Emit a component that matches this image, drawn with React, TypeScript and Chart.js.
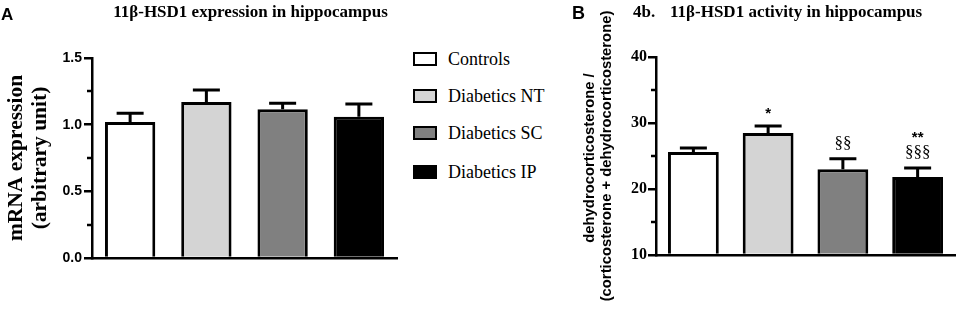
import React, { useEffect, useRef } from "react";
import { Chart, registerables } from "chart.js";

Chart.register(...registerables);

// ---------- data ----------
const groups = ["Controls", "Diabetics NT", "Diabetics SC", "Diabetics IP"];
const groupColors = ["#ffffff", "#d4d4d4", "#808080", "#000000"];

const expressionMean = [1.02, 1.17, 1.115, 1.06];
const expressionSem = [0.065, 0.09, 0.045, 0.095];
const expressionTicks = [0, 0.5, 1.0, 1.5];
const expressionMinorTicks = [0.25, 0.75, 1.25];

const activityMean = [25.6, 28.5, 23.0, 21.8];
const activitySem = [0.6, 1.05, 1.6, 1.4];
const activityTicks = [10, 20, 30, 40];
const activityMinorTicks = [15, 25, 35];
const activityVsControl = ["", "*", "", "**"];
const activityVsNT = ["", "", "§§", "§§§"];

const SERIF = "'Liberation Serif', 'Times New Roman', serif";
const SANS = "'Liberation Sans', Arial, sans-serif";

type TextItem = {
  text: string;
  x: number;
  y: number;
  font: string;
  align?: CanvasTextAlign;
  baseline?: CanvasTextBaseline;
  rotate?: boolean;
};

function makeTextPlugin(id: string, items: TextItem[]) {
  return {
    id,
    afterDraw(chart: any) {
      const ctx = chart.ctx as CanvasRenderingContext2D;
      ctx.save();
      ctx.fillStyle = "#000";
      items.forEach((it) => {
        ctx.save();
        ctx.font = it.font;
        ctx.textAlign = it.align ?? "left";
        ctx.textBaseline = it.baseline ?? "alphabetic";
        ctx.translate(it.x, it.y);
        if (it.rotate) ctx.rotate(-Math.PI / 2);
        ctx.fillText(it.text, 0, 0);
        ctx.restore();
      });
      ctx.restore();
    },
  };
}

function makeErrorBars(id: string, means: number[], sems: number[], capWidth: number) {
  return {
    id,
    afterDatasetsDraw(chart: any) {
      const meta = chart.getDatasetMeta(0);
      const y = chart.scales.y;
      const ctx = chart.ctx as CanvasRenderingContext2D;
      ctx.save();
      ctx.strokeStyle = "#000";
      ctx.lineWidth = 3;
      ctx.lineCap = "butt";
      meta.data.forEach((bar: any, i: number) => {
        const top = y.getPixelForValue(means[i] + sems[i]);
        ctx.beginPath();
        ctx.moveTo(bar.x, bar.y);
        ctx.lineTo(bar.x, top);
        ctx.moveTo(bar.x - capWidth / 2, top);
        ctx.lineTo(bar.x + capWidth / 2, top);
        ctx.stroke();
      });
      ctx.restore();
    },
  };
}

function makeMinorTicks(id: string, values: number[], length: number) {
  return {
    id,
    afterDraw(chart: any) {
      const y = chart.scales.y;
      const left = chart.chartArea.left;
      const ctx = chart.ctx as CanvasRenderingContext2D;
      ctx.save();
      ctx.strokeStyle = "#000";
      ctx.lineWidth = 2.5;
      values.forEach((v) => {
        const py = Math.round(y.getPixelForValue(v));
        ctx.beginPath();
        ctx.moveTo(left - length, py);
        ctx.lineTo(left, py);
        ctx.stroke();
      });
      ctx.restore();
    },
  };
}

function makeSignificance(id: string, means: number[], sems: number[]) {
  return {
    id,
    afterDraw(chart: any) {
      const meta = chart.getDatasetMeta(0);
      const y = chart.scales.y;
      const ctx = chart.ctx as CanvasRenderingContext2D;
      ctx.save();
      ctx.fillStyle = "#000";
      ctx.textAlign = "center";
      ctx.textBaseline = "alphabetic";
      meta.data.forEach((bar: any, i: number) => {
        let base = y.getPixelForValue(means[i] + sems[i]);
        if (activityVsNT[i]) {
          ctx.font = `17px ${SERIF}`;
          ctx.fillText(activityVsNT[i], bar.x, base - 11);
          base -= 18;
        }
        if (activityVsControl[i]) {
          ctx.font = `bold 15px ${SANS}`;
          ctx.fillText(activityVsControl[i], bar.x, base - 7.5);
        }
      });
      ctx.restore();
    },
  };
}

function axisCommon() {
  return {
    grid: { display: true, drawOnChartArea: false, drawTicks: true, tickLength: 8, color: "#000", lineWidth: 2.5 },
    border: { display: true, color: "#000", width: 2.5 },
  };
}

function xAxis(height: number) {
  return {
    grid: { display: false },
    border: { display: true, color: "#000", width: 2.5 },
    ticks: { display: false },
    afterFit: (s: any) => {
      s.height = height;
    },
  };
}

export default function App() {
  const refA = useRef<HTMLCanvasElement>(null);
  const refB = useRef<HTMLCanvasElement>(null);

  useEffect(() => {
    const chartA = new Chart(refA.current!, {
      type: "bar",
      data: {
        labels: groups,
        datasets: [
          {
            data: expressionMean,
            backgroundColor: groupColors,
            borderColor: "#000",
            borderWidth: 3,
            barPercentage: 0.66,
            categoryPercentage: 1,
          },
        ],
      },
      options: {
        responsive: false,
        animation: false,
        devicePixelRatio: 1,
        layout: { padding: { top: 58, right: 3, left: 0, bottom: 0 } },
        plugins: { legend: { display: false }, tooltip: { enabled: false } },
        scales: {
          x: xAxis(53),
          y: {
            min: 0,
            max: 1.5,
            ...axisCommon(),
            afterBuildTicks: (s: any) => {
              s.ticks = expressionTicks.map((v) => ({ value: v }));
            },
            ticks: {
              color: "#000",
              padding: 2,
              font: { family: SANS, size: 14, weight: "bold" },
              callback: (v: any) => Number(v).toFixed(1),
            },
            title: {
              display: true,
              text: ["mRNA expression", "(arbitrary unit)"],
              color: "#000",
              font: { family: SERIF, size: 21.5, weight: "bold", lineHeight: 1.12 },
              padding: { top: 4, bottom: 0 },
            },
            afterFit: (s: any) => {
              s.width = 92;
            },
          },
        },
      } as any,
      plugins: [
        makeErrorBars("errA", expressionMean, expressionSem, 27),
        makeMinorTicks("minorA", expressionMinorTicks, 5),
        makeTextPlugin("textA", [
          { text: "A", x: 1, y: 20, font: `bold 17px ${SANS}` },
          { text: "11β-HSD1 expression in hippocampus", x: 250.5, y: 17, font: `bold 17px ${SERIF}`, align: "center" },
        ]),
      ],
    });

    const chartB = new Chart(refB.current!, {
      type: "bar",
      data: {
        labels: groups,
        datasets: [
          {
            data: activityMean,
            backgroundColor: groupColors,
            borderColor: "#000",
            borderWidth: 3,
            barPercentage: 0.68,
            categoryPercentage: 1,
            base: 10,
          },
        ],
      },
      options: {
        responsive: false,
        animation: false,
        devicePixelRatio: 1,
        layout: { padding: { top: 57, right: 10, left: 0, bottom: 0 } },
        plugins: { legend: { display: false }, tooltip: { enabled: false } },
        scales: {
          x: xAxis(56),
          y: {
            min: 10,
            max: 40,
            ...axisCommon(),
            afterBuildTicks: (s: any) => {
              s.ticks = activityTicks.map((v) => ({ value: v }));
            },
            ticks: {
              color: "#000",
              padding: 1,
              font: { family: SERIF, size: 16, weight: "bold" },
              callback: (v: any) => String(v),
            },
            afterFit: (s: any) => {
              s.width = 96;
            },
          },
        },
      } as any,
      plugins: [
        makeErrorBars("errB", activityMean, activitySem, 27),
        makeMinorTicks("minorB", activityMinorTicks, 5),
        makeSignificance("sigB", activityMean, activitySem),
        makeTextPlugin("textB", [
          { text: "B", x: 12, y: 19, font: `bold 18px ${SANS}` },
          { text: "4b.", x: 73, y: 17, font: `bold 17px ${SERIF}` },
          { text: "11β-HSD1 activity in hippocampus", x: 110, y: 17, font: `bold 17px ${SERIF}` },
          {
            text: "dehydrocorticosterone /",
            x: 30,
            y: 158,
            font: `bold 14.8px ${SANS}`,
            align: "center",
            baseline: "middle",
            rotate: true,
          },
          {
            text: "(corticosterone + dehydrocorticosterone)",
            x: 47,
            y: 156,
            font: `bold 14.8px ${SANS}`,
            align: "center",
            baseline: "middle",
            rotate: true,
          },
        ]),
      ],
    });

    return () => {
      chartA.destroy();
      chartB.destroy();
    };
  }, []);

  const legendRows = [59, 96, 133, 172];

  return (
    <div style={{ position: "absolute", left: 0, top: 0, width: 965, height: 311, background: "#fff", overflow: "hidden" }}>
      <canvas ref={refA} width={400} height={311} style={{ position: "absolute", left: 0, top: 0, width: 400, height: 311 }} />
      <canvas ref={refB} width={405} height={311} style={{ position: "absolute", left: 560, top: 0, width: 405, height: 311 }} />
      {groups.map((g, i) => (
        <div
          key={g}
          style={{
            position: "absolute",
            left: 413,
            top: legendRows[i] - 12,
            height: 24,
            display: "flex",
            alignItems: "center",
            whiteSpace: "nowrap",
          }}
        >
          <span
            style={{
              display: "inline-block",
              boxSizing: "border-box",
              width: 24,
              height: 14,
              border: "2.5px solid #000",
              background: groupColors[i],
              marginRight: 11,
            }}
          />
          <span style={{ fontFamily: SERIF, fontSize: 18, color: "#000", lineHeight: "24px" }}>{g}</span>
        </div>
      ))}
    </div>
  );
}
